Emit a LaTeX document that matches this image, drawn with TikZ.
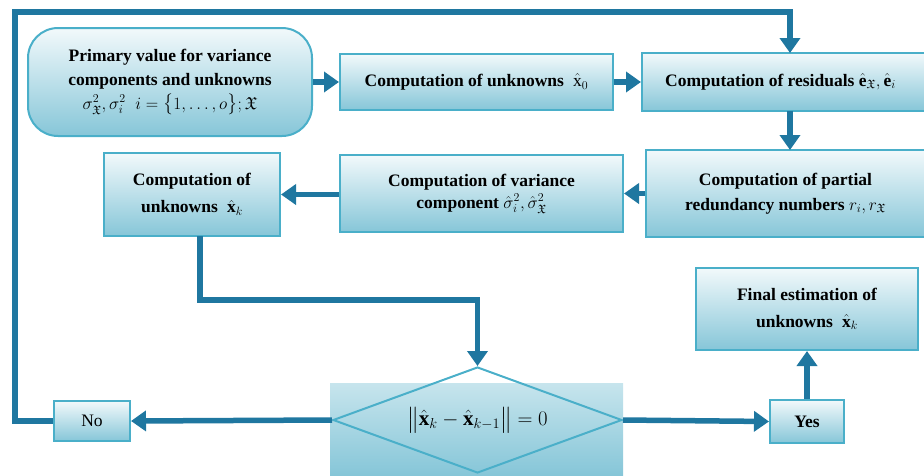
\documentclass[tikz,border=0pt]{standalone}
\usepackage{amsmath,amssymb}
\usepackage{fontspec}
\setmainfont{Liberation Serif}
\usetikzlibrary{shapes.geometric,arrows.meta,calc}
\definecolor{arr}{HTML}{1F77A0}
\definecolor{brd}{HTML}{4AAFC9}
\definecolor{topc}{HTML}{F2F9FB}
\definecolor{botc}{HTML}{86C6D8}
\tikzset{
  box/.style={draw=brd, line width=2pt, top color=topc, bottom color=botc, inner sep=0pt, align=center, font=\bfseries\fontsize{17.5}{25}\selectfont},
  conn/.style={draw=arr, line width=5.5pt, -{Triangle[length=15pt,width=20pt]}},
}
\begin{document}
\begin{tikzpicture}[x=1pt,y=-1pt]
\useasboundingbox (0,0) rectangle (924,475);
\begin{scope}
\clip (0,0) rectangle (924,475);
% nodes
\node[box, rounded corners=30pt, minimum width=284pt, minimum height=108pt] (prim) at (170,82)
  {Primary value for variance\\[-1pt]components and unknowns\\[-1pt]
   \mdseries$\sigma^2_{\mathfrak{X}},\sigma^2_i\;\; i=\bigl\{1,\dots,o\bigr\};\mathfrak{X}$};
\node[box, minimum width=273pt, minimum height=56pt] (x0) at (476.5,82)
  {Computation of unknowns \;\mdseries$\hat{\mathrm{x}}_0$};
\node[box, minimum width=283pt, minimum height=58pt, anchor=west] (res) at (641,82)
  {\raisebox{4pt}{Computation of residuals \mdseries$\hat{\mathbf{e}}_{\mathfrak{X}},\hat{\mathbf{e}}_i$}\hspace{6pt}};
\node[box, minimum width=279pt, minimum height=87pt, anchor=west] (red) at (645,193.5)
  {Computation of partial\\redundancy numbers \mdseries$r_i,r_{\mathfrak{X}}$\hspace{6pt}};
\node[box, minimum width=283pt, minimum height=77pt] (var) at (481.5,193.5)
  {Computation of variance\\[-3pt]component \mdseries$\hat{\sigma}^2_i,\hat{\sigma}^2_{\mathfrak{X}}$};
\node[box, minimum width=176pt, minimum height=83pt] (xk) at (192,194.5)
  {Computation of\\[2pt]unknowns \;$\hat{\mathbf{x}}_k$};
\node[box, minimum width=222pt, minimum height=82pt] (fin) at (807,309)
  {Final estimation of\\[2pt]unknowns \;$\hat{\mathbf{x}}_k$};
\node[box, minimum width=74pt, minimum height=43pt] (yes) at (807,421.5) {Yes};
\node[box, font=\fontsize{17.5}{20}\selectfont, minimum width=76pt, minimum height=40pt] (no) at (92,421) {No};
% decision
\node[top color=topc!60!botc, bottom color=botc, minimum width=293pt, minimum height=92pt, inner sep=0pt] (bg) at (476.5,429) {};
\node[diamond, aspect=2.73, draw=brd, line width=2pt, minimum width=289pt, minimum height=106pt, inner sep=0pt] (dec) at (477.5,420)
  {\fontsize{21}{24}\selectfont$\bigl\|\hat{\mathbf{x}}_k-\hat{\mathbf{x}}_{k-1}\bigr\|=0$};
% connectors
\draw[conn] (prim.east |- x0.west) -- (x0.west);
\draw[conn] (x0) -- (res.west |- x0);
\draw[conn] (790,111) -- (790,150);
\draw[conn] (red.west |- var.east) -- (var.east);
\draw[conn] (var.west |- xk) -- (xk.east);
\draw[conn] (200,236) -- (200,300) -- (477.5,300) -- (dec.north);
\draw[conn] (dec.west) -- (no.east);
\draw[conn] (dec.east) -- (yes.west);
\draw[conn] (yes.north) -- (fin.south);
\draw[conn] (no.west) -- (15,421) -- (15,12) -- (790,12) -- (790,53);
\end{scope}
\end{tikzpicture}
\end{document}
